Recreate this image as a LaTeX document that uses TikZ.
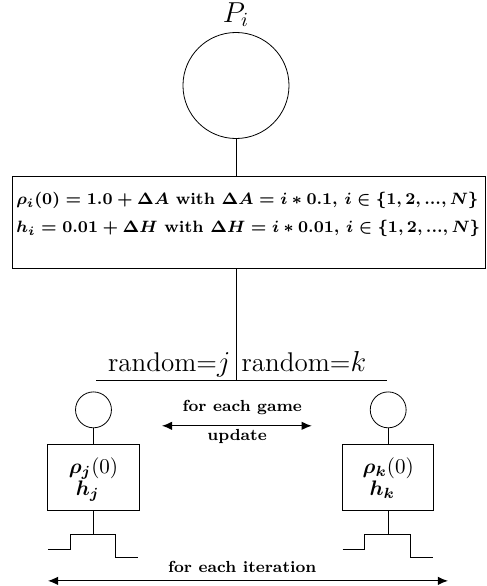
\documentclass[tikz,border=0pt]{standalone}
\usepackage{amsmath}
\usetikzlibrary{arrows.meta,positioning}
\begin{document}
\begin{tikzpicture}[
  player/.style={circle,draw,inner sep=0pt},
  statebox/.style={rectangle,draw,minimum width=1.6cm,minimum height=1.16cm},
  note/.style={font=\footnotesize\bfseries},
  formula/.style={anchor=west,inner sep=0pt,scale=1.025,font=\footnotesize\bfseries\boldmath},
  pick/.style={font=\fontsize{13.5}{16}\selectfont,inner sep=1.5pt},
  twoway/.style={{Latex[length=1.8mm,width=1.5mm]}-{Latex[length=1.8mm,width=1.5mm]},line width=0.6pt}]
\useasboundingbox (-4.14,-3.60) rectangle (4.40,6.68);
% population node and its initial values
\node[player,minimum size=1.86cm] (pop) at (0,5.18){};
\node[font=\Large] (poplab) at (0,6.42){$P_i$};
\node[draw,minimum width=8.30cm,minimum height=1.60cm] (init) at (0.22,2.78){};
\node[formula] (rho) at (-3.86,3.16){$\rho_i(0) = 1.0 + \Delta A$ with $\Delta A = i*0.1,\, i \in \{1, 2, ..., N\}$};
\node[formula] (hval) at (-3.86,2.67){$h_i = 0.01 + \Delta H$ with $\Delta H = i*0.01,\, i \in \{1, 2, ..., N\}$};
\draw (pop.south) -- (pop.south |- init.north);
% random pairing
\coordinate (split) at (0,0);
\coordinate (barL) at (-2.45,0);
\coordinate (barR) at (2.65,0);
\draw (split |- init.south) -- (split);
\draw (barL) -- (barR);
\node[pick,anchor=base east] (randj) at (-0.04,0.16){random=$j$};
\node[pick,anchor=base west] (randk) at (0.04,0.16){random=$k$};
\foreach \x/\n in {-2.5/j,2.67/k}{
  \node[player,minimum size=0.63cm] (c\n) at (\x,-0.51){};
  \node[statebox] (b\n) at (\x,-1.70){};
  \node[anchor=north,align=left,scale=1.05,yshift=-1mm] (t\n) at (b\n.north){$\boldsymbol{\rho_\n}(0)$\\[-1.5pt]\,\,$\boldsymbol{h_\n}$};
  \draw (c\n) -- (b\n);
  \draw (b\n.south) -- ++(0,-0.40) coordinate (s\n);
  \draw (s\n) ++(-0.80,-0.27) -- ++(0.39,0) -- ++(0,0.27) -- ++(0.80,0) -- ++(0,-0.41) -- ++(0.39,0);
}
% game and iteration loops
\node[note] (game) at (0.11,-0.46){for each game};
\coordinate (updL) at (-1.30,-0.79);
\coordinate (updR) at (1.33,-0.79);
\draw[twoway] (updL) -- (updR);
\node[note] (upd) at (0.02,-0.98){update};
\node[note] (iter) at (0.11,-3.26){for each iteration};
\coordinate (itL) at (-3.30,-3.51);
\coordinate (itR) at (3.72,-3.51);
\draw[twoway] (itL) -- (itR);
\end{tikzpicture}
\end{document}
